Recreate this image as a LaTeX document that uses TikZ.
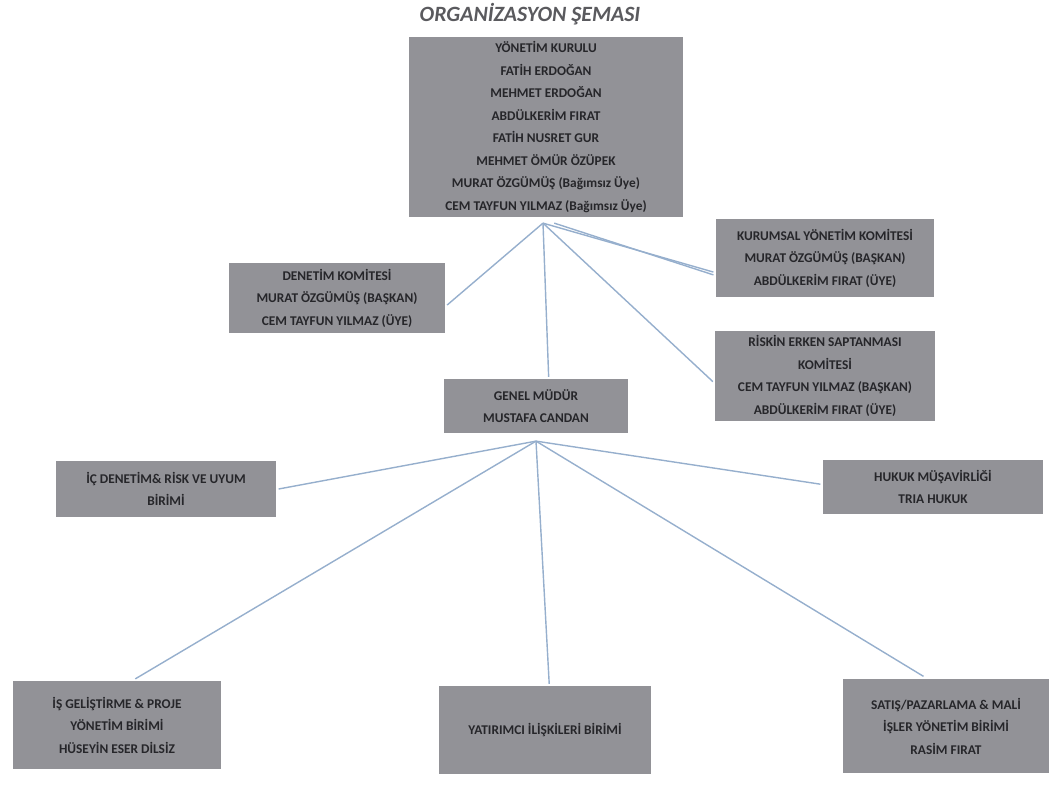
\documentclass[tikz,border=0pt]{standalone}
\usepackage{fontspec}
\setmainfont{Carlito}
\usepackage{xcolor}
\usetikzlibrary{shadows, calc}

\definecolor{boxgray}{RGB}{146,146,151}
\definecolor{boxtext}{RGB}{38,38,42}
\definecolor{linkblue}{RGB}{150,175,205}
\definecolor{titlegray}{RGB}{90,90,94}

\begin{document}
\begin{tikzpicture}[x=0.025cm, y=-0.025cm,
    unit/.style={fill=boxgray, draw=white, line width=1.6pt, align=center,
        text=boxtext, font=\fontsize{9.5}{16}\selectfont\bfseries,
        drop shadow={opacity=0.25, shadow xshift=1pt, shadow yshift=-1pt},
        inner sep=0pt},
    link/.style={draw=linkblue, line width=1pt}]
\useasboundingbox (0,0) rectangle (1055,789);

% Title
\node[font=\fontsize{15.5}{18}\selectfont\bfseries\itshape, text=titlegray] (title) at (530,14) {ORGANİZASYON ŞEMASI};

% Board and committees
\node[unit, minimum width=277*0.025cm, minimum height=182*0.025cm] (yk) at (546,127)
    {YÖNETİM KURULU\\FATİH ERDOĞAN\\MEHMET ERDOĞAN\\ABDÜLKERİM FIRAT\\FATİH NUSRET GUR\\MEHMET ÖMÜR ÖZÜPEK\\MURAT ÖZGÜMÜŞ (Bağımsız Üye)\\CEM TAYFUN YILMAZ (Bağımsız Üye)};
\node[unit, minimum width=218*0.025cm, minimum height=72*0.025cm] (den) at (337,298)
    {DENETİM KOMİTESİ\\MURAT ÖZGÜMÜŞ (BAŞKAN)\\CEM TAYFUN YILMAZ (ÜYE)};
\node[unit, minimum width=221*0.025cm, minimum height=80*0.025cm] (kur) at (825,258)
    {KURUMSAL YÖNETİM KOMİTESİ\\MURAT ÖZGÜMÜŞ (BAŞKAN)\\ABDÜLKERİM FIRAT (ÜYE)};
\node[unit, minimum width=222*0.025cm, minimum height=92*0.025cm] (risk) at (825,376)
    {RİSKİN ERKEN SAPTANMASI\\KOMİTESİ\\CEM TAYFUN YILMAZ (BAŞKAN)\\ABDÜLKERİM FIRAT (ÜYE)};

% General manager
\node[unit, minimum width=186*0.025cm, minimum height=56*0.025cm] (gm) at (536,406)
    {GENEL MÜDÜR\\MUSTAFA CANDAN};

% Units
\node[unit, minimum width=223*0.025cm, minimum height=58*0.025cm] (ic) at (166,489)
    {İÇ DENETİM\& RİSK VE UYUM\\BİRİMİ};
\node[unit, minimum width=223*0.025cm, minimum height=56*0.025cm] (hukuk) at (933,487)
    {HUKUK MÜŞAVİRLİĞİ\\TRIA HUKUK};
\node[unit, minimum width=210*0.025cm, minimum height=90*0.025cm] (is) at (117,725)
    {İŞ GELİŞTİRME \& PROJE\\YÖNETİM BİRİMİ\\HÜSEYİN ESER DİLSİZ};
\node[unit, minimum width=215*0.025cm, minimum height=90*0.025cm] (yat) at (545,730)
    {YATIRIMCI İLİŞKİLERİ BİRİMİ};
\node[unit, minimum width=208*0.025cm, minimum height=97*0.025cm] (satis) at (946,726)
    {SATIŞ/PAZARLAMA \& MALİ\\İŞLER YÖNETİM BİRİMİ\\RASİM FIRAT};

% Connectors from the board
\coordinate (ykfoot) at ($(yk.south)+(-3,4)$);
\draw[link] (ykfoot) -- ([yshift=-5]den.east);
\draw[link] (ykfoot) -- ([yshift=-10]kur.west);
\draw[link] ([xshift=8]ykfoot) -- ([yshift=-12]kur.west);
\draw[link] (ykfoot) -- ([yshift=-4]risk.west);
\draw[link] (ykfoot) -- ([xshift=9]gm.north);

% Connectors from the general manager
\coordinate (gmfoot) at ($(gm.south)+(0,6)$);
\draw[link] (gmfoot) -- (ic.east);
\draw[link] (gmfoot) -- ([yshift=2]hukuk.west);
\draw[link] (gmfoot) -- ([xshift=13]is.north);
\draw[link] (gmfoot) -- ([xshift=3]yat.north);
\draw[link] (gmfoot) -- ([xshift=-16]satis.north);

\end{tikzpicture}
\end{document}
